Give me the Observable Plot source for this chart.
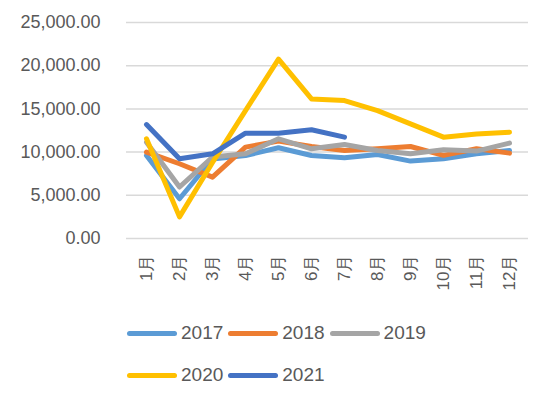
<!DOCTYPE html>
<html><head><meta charset="utf-8">
<script src="https://cdn.jsdelivr.net/npm/d3@7"></script>
<script src="https://cdn.jsdelivr.net/npm/@observablehq/plot@0.6"></script>
<style>
body{margin:0;background:#fff;font-family:"Liberation Sans",Arial,sans-serif;}
#legend{margin-left:127px;margin-top:12px;color:#595959;font-size:19px;}
.row{display:flex;align-items:center;height:42px;}
.item{display:flex;align-items:center;margin-right:5px;}
.sw{width:50px;height:5px;border-radius:3px;margin-right:4px;}
</style></head>
<body>
<div id="chart"></div>
<div id="legend"></div>
<script>
const months = ["1月","2月","3月","4月","5月","6月","7月","8月","9月","10月","11月","12月"];
const series = ["2017","2018","2019","2020","2021"];
const colors = ["#5B9BD5","#ED7D31","#A5A5A5","#FFC000","#4472C4"];
const v2017 = [9600,4600,9200,9600,10500,9600,9350,9730,8960,9230,9800,10190];
const v2018 = [10000,8650,7100,10580,11270,10650,10190,10380,10650,9620,10380,9880];
const v2019 = [11150,5960,9420,9800,11540,10380,10880,10190,9800,10270,10120,11040];
const v2020 = [11540,2500,8800,14800,20770,16150,15960,14800,13270,11730,12100,12300];
const v2021 = [13190,9230,9800,12190,12190,12580,11730];
const yTicks = [0,5000,10000,15000,20000,25000];

const valueLists = [v2017,v2018,v2019,v2020,v2021];
const data = [];
series.forEach((s,i)=>valueLists[i].forEach((v,j)=>data.push({series:s,month:months[j],value:v})));

const plot = Plot.plot({
  width:550, height:300,
  marginLeft:126, marginRight:22, marginTop:22, marginBottom:62,
  style:{fontFamily:"Liberation Sans, Arial, sans-serif", fontSize:"18px", color:"#595959", background:"#fff"},
  x:{type:"point", domain:months, padding:0.5, label:null},
  y:{domain:[0,25000], label:null},
  color:{domain:series, range:colors},
  marks:[
    Plot.ruleY(yTicks,{stroke:"#d9d9d9", strokeWidth:1.5}),
    Plot.axisY({ticks:yTicks, tickSize:0, tickPadding:26, tickFormat:d3.format(",.2f"), fontSize:18, fill:"#595959"}),
    Plot.axisX({tickSize:0, tickRotate:-90, tickPadding:16, fontSize:17, fill:"#595959"}),
    Plot.line(data,{x:"month", y:"value", stroke:"series", z:"series", strokeWidth:5, strokeLinecap:"round", strokeLinejoin:"round"})
  ]
});
document.getElementById("chart").appendChild(plot);

const legend = document.getElementById("legend");
const rows = [[0,1,2],[3,4]];
rows.forEach(r=>{
  const row = document.createElement("div"); row.className="row";
  r.forEach(i=>{
    const it = document.createElement("div"); it.className="item";
    it.innerHTML = `<div class="sw" style="background:${colors[i]}"></div><span>${series[i]}</span>`;
    row.appendChild(it);
  });
  legend.appendChild(row);
});
</script>
</body></html>
